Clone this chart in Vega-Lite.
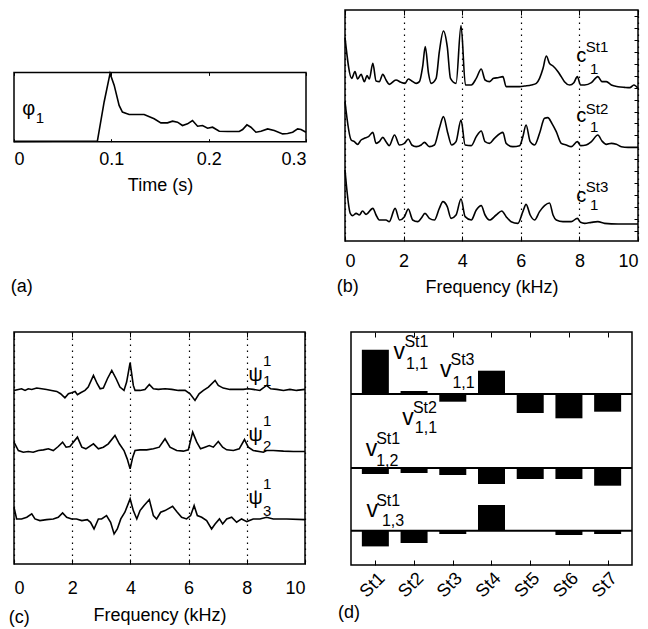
{
  "$schema": "https://vega.github.io/schema/vega-lite/v6.json",
  "background": "white",
  "padding": {"left": 8, "top": 8, "right": 0, "bottom": 0},
  "config": {
    "font": "Liberation Sans",
    "view": {"stroke": "black", "strokeWidth": 1.5},
    "axis": {"domain": false, "grid": false, "tickColor": "black", "tickSize": -5, "tickWidth": 1, "labelFont": "Liberation Sans", "labelFontSize": 18, "labelColor": "black", "labelPadding": 16, "titleFont": "Liberation Sans", "titleFontSize": 18, "titleFontWeight": "normal", "titleColor": "black", "titlePadding": 8},
    "title": {"font": "Liberation Sans", "fontSize": 18, "fontWeight": "normal", "color": "black"},
    "text": {"font": "Liberation Sans", "color": "black"},
    "line": {"color": "black", "strokeWidth": 1.5}
  },
  "datasets": {
    "a": [{"t":0,"v":0.005},{"t":0.0857,"v":0.01},{"t":0.0926,"v":0.573},{"t":0.0987,"v":0.985},{"t":0.1029,"v":0.816},{"t":0.108,"v":0.524},{"t":0.1114,"v":0.427},{"t":0.1183,"v":0.393},{"t":0.1337,"v":0.393},{"t":0.144,"v":0.33},{"t":0.1509,"v":0.272},{"t":0.1577,"v":0.272},{"t":0.1629,"v":0.296},{"t":0.168,"v":0.282},{"t":0.1731,"v":0.233},{"t":0.1783,"v":0.257},{"t":0.1834,"v":0.306},{"t":0.1886,"v":0.223},{"t":0.1937,"v":0.233},{"t":0.1989,"v":0.194},{"t":0.204,"v":0.209},{"t":0.2109,"v":0.15},{"t":0.2194,"v":0.146},{"t":0.2314,"v":0.146},{"t":0.2349,"v":0.175},{"t":0.2393,"v":0.243},{"t":0.2434,"v":0.209},{"t":0.2486,"v":0.136},{"t":0.2537,"v":0.15},{"t":0.2606,"v":0.184},{"t":0.2674,"v":0.16},{"t":0.276,"v":0.112},{"t":0.2811,"v":0.117},{"t":0.2863,"v":0.136},{"t":0.2914,"v":0.184},{"t":0.2949,"v":0.175},{"t":0.3,"v":0.136}],
    "b1": [{"f":0,"a":1.5},{"f":0.23,"a":0.28},{"f":0.34,"a":0.48},{"f":0.43,"a":0.26},{"f":0.55,"a":0.4},{"f":0.66,"a":0.18},{"f":0.75,"a":0.36},{"f":0.83,"a":0.26},{"f":0.95,"a":0.73},{"f":1.06,"a":0.2},{"f":1.17,"a":0.18},{"f":1.29,"a":0.4},{"f":1.4,"a":0.23},{"f":1.51,"a":0.1},{"f":1.74,"a":0.23},{"f":1.91,"a":0.16},{"f":2.05,"a":0.13},{"f":2.16,"a":0.26},{"f":2.28,"a":0.2},{"f":2.43,"a":0.13},{"f":2.54,"a":0.18},{"f":2.65,"a":0.63},{"f":2.74,"a":1.23},{"f":2.85,"a":0.43},{"f":2.94,"a":0.13},{"f":3.11,"a":0.28},{"f":3.22,"a":1.08},{"f":3.36,"a":1.7},{"f":3.49,"a":1.23},{"f":3.6,"a":0.28},{"f":3.79,"a":0.13},{"f":3.96,"a":1.86},{"f":4.11,"a":0.08},{"f":4.31,"a":0.08},{"f":4.48,"a":0.28},{"f":4.65,"a":0.56},{"f":4.78,"a":0.23},{"f":4.93,"a":0.18},{"f":5.07,"a":0.28},{"f":5.22,"a":0.3},{"f":5.39,"a":0.33},{"f":5.5,"a":0.03},{"f":5.73,"a":0.03},{"f":5.96,"a":0.03},{"f":6.13,"a":0.05},{"f":6.36,"a":0.08},{"f":6.53,"a":0.13},{"f":6.64,"a":0.28},{"f":6.76,"a":0.58},{"f":6.87,"a":0.95},{"f":6.98,"a":0.73},{"f":7.1,"a":0.65},{"f":7.27,"a":0.48},{"f":7.38,"a":0.33},{"f":7.49,"a":0.18},{"f":7.67,"a":0.08},{"f":7.81,"a":0.15},{"f":7.93,"a":0.33},{"f":8.04,"a":0.08},{"f":8.18,"a":0.08},{"f":8.41,"a":0.15},{"f":8.63,"a":0.33},{"f":8.77,"a":0.18},{"f":8.92,"a":0.18},{"f":9.09,"a":0.08},{"f":9.32,"a":0.03},{"f":9.54,"a":0.01},{"f":9.72,"a":0},{"f":9.86,"a":0.08},{"f":10,"a":-0.02}],
    "b2": [{"f":0,"a":1.37},{"f":0.21,"a":0.22},{"f":0.32,"a":0.17},{"f":0.43,"a":0.09},{"f":0.55,"a":0.22},{"f":0.66,"a":0.27},{"f":0.8,"a":0.32},{"f":0.95,"a":0.45},{"f":1.06,"a":0.12},{"f":1.17,"a":0.17},{"f":1.29,"a":0.3},{"f":1.4,"a":0.17},{"f":1.51,"a":0.05},{"f":1.69,"a":0.37},{"f":1.86,"a":0.07},{"f":2.03,"a":0.12},{"f":2.16,"a":0.25},{"f":2.28,"a":0.07},{"f":2.43,"a":0.02},{"f":2.6,"a":0.07},{"f":2.71,"a":0.15},{"f":2.88,"a":0.02},{"f":3.05,"a":0.07},{"f":3.22,"a":0.57},{"f":3.36,"a":0.92},{"f":3.51,"a":0.42},{"f":3.64,"a":0.07},{"f":3.79,"a":0.17},{"f":3.96,"a":0.82},{"f":4.1,"a":0.07},{"f":4.31,"a":0.05},{"f":4.48,"a":0.32},{"f":4.65,"a":0.49},{"f":4.78,"a":0.17},{"f":4.93,"a":0.12},{"f":5.1,"a":0.27},{"f":5.39,"a":0.45},{"f":5.5,"a":0.12},{"f":5.73,"a":0.02},{"f":5.96,"a":0.05},{"f":6.07,"a":0.32},{"f":6.18,"a":0.67},{"f":6.32,"a":0.17},{"f":6.47,"a":0.07},{"f":6.64,"a":0.42},{"f":6.81,"a":0.87},{"f":6.92,"a":0.89},{"f":7.06,"a":0.72},{"f":7.21,"a":0.47},{"f":7.38,"a":0.12},{"f":7.55,"a":0.07},{"f":7.72,"a":0.02},{"f":7.93,"a":0.17},{"f":8.04,"a":0.05},{"f":8.23,"a":0.07},{"f":8.41,"a":0.17},{"f":8.63,"a":0.37},{"f":8.77,"a":0.19},{"f":8.92,"a":0.09},{"f":9.09,"a":0.12},{"f":9.26,"a":0.09},{"f":9.43,"a":0.02},{"f":9.66,"a":0},{"f":10,"a":0}],
    "b3": [{"f":0,"a":1.62},{"f":0.18,"a":0.32},{"f":0.26,"a":0.25},{"f":0.38,"a":0.32},{"f":0.49,"a":0.27},{"f":0.6,"a":0.39},{"f":0.72,"a":0.29},{"f":0.95,"a":0.47},{"f":1.06,"a":0.27},{"f":1.17,"a":0.12},{"f":1.4,"a":0.12},{"f":1.51,"a":0.07},{"f":1.71,"a":0.47},{"f":1.86,"a":0.12},{"f":2.03,"a":0.22},{"f":2.16,"a":0.45},{"f":2.31,"a":0.12},{"f":2.48,"a":0.07},{"f":2.6,"a":0.17},{"f":2.73,"a":0.32},{"f":2.88,"a":0.17},{"f":3.05,"a":0.12},{"f":3.22,"a":0.47},{"f":3.34,"a":0.67},{"f":3.49,"a":0.52},{"f":3.62,"a":0.17},{"f":3.79,"a":0.27},{"f":3.96,"a":0.75},{"f":4.1,"a":0.22},{"f":4.31,"a":0.12},{"f":4.48,"a":0.42},{"f":4.65,"a":0.55},{"f":4.78,"a":0.27},{"f":4.93,"a":0.12},{"f":5.16,"a":0.27},{"f":5.35,"a":0.39},{"f":5.5,"a":0.22},{"f":5.67,"a":0.07},{"f":5.9,"a":0.02},{"f":6.07,"a":0.37},{"f":6.18,"a":0.59},{"f":6.32,"a":0.27},{"f":6.47,"a":0.12},{"f":6.64,"a":0.37},{"f":6.81,"a":0.55},{"f":6.98,"a":0.63},{"f":7.1,"a":0.27},{"f":7.21,"a":0.12},{"f":7.44,"a":0.07},{"f":7.72,"a":0.07},{"f":7.93,"a":0.17},{"f":8.04,"a":0.05},{"f":8.18,"a":0.02},{"f":8.41,"a":0.05},{"f":8.63,"a":0.07},{"f":8.86,"a":0.02},{"f":9.32,"a":0},{"f":10,"a":0}],
    "c1": [{"f":0,"a":-0.03},{"f":0.15,"a":0},{"f":0.26,"a":0.02},{"f":0.38,"a":-0.03},{"f":0.49,"a":0.02},{"f":0.61,"a":0},{"f":0.78,"a":0.04},{"f":0.95,"a":0.02},{"f":1.12,"a":0},{"f":1.29,"a":-0.03},{"f":1.47,"a":-0.06},{"f":1.6,"a":-0.13},{"f":1.75,"a":-0.25},{"f":1.87,"a":-0.13},{"f":1.98,"a":-0.1},{"f":2.1,"a":-0.06},{"f":2.18,"a":-0.16},{"f":2.29,"a":-0.1},{"f":2.44,"a":-0.03},{"f":2.55,"a":0.07},{"f":2.73,"a":0.42},{"f":2.86,"a":0.17},{"f":2.96,"a":0.02},{"f":3.07,"a":0.04},{"f":3.21,"a":0.32},{"f":3.36,"a":0.57},{"f":3.51,"a":0.32},{"f":3.64,"a":0.07},{"f":3.78,"a":-0.03},{"f":3.87,"a":0.22},{"f":3.99,"a":0.8},{"f":4.1,"a":0.12},{"f":4.16,"a":-0.03},{"f":4.33,"a":-0.03},{"f":4.5,"a":0},{"f":4.65,"a":0.15},{"f":4.79,"a":0.02},{"f":4.96,"a":0},{"f":5.19,"a":0.02},{"f":5.42,"a":0},{"f":5.65,"a":-0.03},{"f":5.88,"a":-0.03},{"f":6.05,"a":-0.13},{"f":6.22,"a":-0.33},{"f":6.36,"a":-0.13},{"f":6.51,"a":-0.03},{"f":6.68,"a":0.07},{"f":6.91,"a":0.27},{"f":7.02,"a":0.12},{"f":7.19,"a":0.04},{"f":7.42,"a":0},{"f":7.65,"a":0},{"f":7.88,"a":0},{"f":8.05,"a":0.02},{"f":8.22,"a":0},{"f":8.45,"a":-0.03},{"f":8.68,"a":0.12},{"f":8.82,"a":0.02},{"f":9.03,"a":0},{"f":9.26,"a":-0.03},{"f":9.48,"a":0},{"f":9.71,"a":-0.03},{"f":10,"a":0}],
    "c2": [{"f":0,"a":0.27},{"f":0.15,"a":0.02},{"f":0.32,"a":-0.03},{"f":0.49,"a":-0.01},{"f":0.66,"a":-0.03},{"f":0.84,"a":0.02},{"f":1.01,"a":0.04},{"f":1.18,"a":0.07},{"f":1.35,"a":0.02},{"f":1.52,"a":0.14},{"f":1.67,"a":0.27},{"f":1.79,"a":0.12},{"f":1.92,"a":0.14},{"f":2.18,"a":0.42},{"f":2.33,"a":0.12},{"f":2.47,"a":0.07},{"f":2.73,"a":0.22},{"f":2.9,"a":0.07},{"f":3.07,"a":0.12},{"f":3.24,"a":0.22},{"f":3.47,"a":0.47},{"f":3.62,"a":0.22},{"f":3.78,"a":0.02},{"f":3.89,"a":-0.23},{"f":3.99,"a":-0.53},{"f":4.08,"a":-0.18},{"f":4.16,"a":0.02},{"f":4.33,"a":0.04},{"f":4.56,"a":0.04},{"f":4.79,"a":0.07},{"f":4.99,"a":0.12},{"f":5.19,"a":0.37},{"f":5.36,"a":0.12},{"f":5.59,"a":0.02},{"f":5.82,"a":0},{"f":5.99,"a":0.04},{"f":6.14,"a":0.57},{"f":6.28,"a":0.27},{"f":6.41,"a":0.07},{"f":6.56,"a":0.12},{"f":6.71,"a":0.17},{"f":6.85,"a":0.12},{"f":7.02,"a":0.29},{"f":7.17,"a":0.12},{"f":7.31,"a":0.04},{"f":7.54,"a":0.02},{"f":7.74,"a":0.07},{"f":7.92,"a":0.35},{"f":8.05,"a":0.12},{"f":8.22,"a":0.02},{"f":8.57,"a":-0.03},{"f":8.68,"a":0.02},{"f":8.91,"a":0.02},{"f":9.26,"a":0},{"f":9.6,"a":-0.01},{"f":10,"a":-0.01}],
    "c3": [{"f":0,"a":0.35},{"f":0.09,"a":0},{"f":0.26,"a":0},{"f":0.44,"a":0.05},{"f":0.61,"a":0.15},{"f":0.72,"a":0},{"f":0.89,"a":-0.05},{"f":1.12,"a":-0.02},{"f":1.35,"a":0},{"f":1.52,"a":0.05},{"f":1.67,"a":0.18},{"f":1.81,"a":0.05},{"f":1.98,"a":0},{"f":2.15,"a":0},{"f":2.33,"a":-0.05},{"f":2.52,"a":-0.02},{"f":2.63,"a":-0.1},{"f":2.75,"a":-0.3},{"f":2.9,"a":0},{"f":3.01,"a":0},{"f":3.18,"a":0.1},{"f":3.32,"a":-0.1},{"f":3.44,"a":-0.45},{"f":3.55,"a":-0.3},{"f":3.67,"a":0},{"f":3.81,"a":0.2},{"f":3.99,"a":0.6},{"f":4.1,"a":0.25},{"f":4.22,"a":0},{"f":4.33,"a":0.25},{"f":4.47,"a":0.4},{"f":4.65,"a":0.58},{"f":4.79,"a":0.1},{"f":4.9,"a":0},{"f":5.04,"a":0.2},{"f":5.19,"a":0.25},{"f":5.45,"a":0.38},{"f":5.59,"a":0.22},{"f":5.76,"a":0.05},{"f":5.93,"a":0},{"f":6.07,"a":0.1},{"f":6.19,"a":0.4},{"f":6.3,"a":0.1},{"f":6.45,"a":0.05},{"f":6.62,"a":-0.05},{"f":6.79,"a":-0.3},{"f":6.91,"a":-0.15},{"f":7.06,"a":0},{"f":7.17,"a":-0.15},{"f":7.31,"a":0},{"f":7.48,"a":0.05},{"f":7.65,"a":-0.1},{"f":7.82,"a":0},{"f":8,"a":-0.08},{"f":8.22,"a":0},{"f":8.45,"a":0},{"f":8.68,"a":0.05},{"f":8.91,"a":0},{"f":9.37,"a":0},{"f":10,"a":-0.02}],
    "d1": [{"st":1,"v":0.443},{"st":2,"v":0.03},{"st":3,"v":-0.077},{"st":4,"v":0.233},{"st":5,"v":-0.19},{"st":6,"v":-0.243},{"st":7,"v":-0.177}],
    "d2": [{"st":1,"v":-0.06},{"st":2,"v":-0.05},{"st":3,"v":-0.07},{"st":4,"v":-0.16},{"st":5,"v":-0.11},{"st":6,"v":-0.11},{"st":7,"v":-0.177}],
    "d3": [{"st":1,"v":-0.157},{"st":2,"v":-0.123},{"st":3,"v":-0.033},{"st":4,"v":0.257},{"st":5,"v":0},{"st":6,"v":-0.043},{"st":7,"v":-0.033}]
  },
  "spacing": 33,
  "vconcat": [
    {
      "spacing": 26,
      "hconcat": [
        {
          "width": 292, "height": 231,
          "view": {"stroke": null},
          "title": {"text": "(a)", "orient": "bottom", "anchor": "start", "offset": 37},
          "layer": [
            {
              "data": {"values": [{"t0": 0, "t1": 0.3, "v0": 0, "v1": 1}]},
              "mark": {"type": "rect", "filled": false, "stroke": "black", "strokeWidth": 1.5},
              "encoding": {
                "x": {"field": "t0", "type": "quantitative", "scale": {"domain": [0, 0.3], "nice": false, "zero": false}, "axis": {"orient": "top", "offset": -62.4, "values": [0, 0.1, 0.2, 0.3], "labels": false, "title": null, "tickSize": -3}},
                "x2": {"field": "t1"},
                "y": {"field": "v0", "type": "quantitative", "scale": {"domain": [-1.433, 1.9], "nice": false, "zero": false}, "axis": null},
                "y2": {"field": "v1"}
              }
            },
            {
              "data": {"name": "a"},
              "mark": {"type": "line", "color": "black", "strokeWidth": 1.6},
              "encoding": {
                "x": {"field": "t", "type": "quantitative", "axis": {"orient": "bottom", "offset": -99.3, "values": [0, 0.1, 0.2, 0.3], "format": "~f", "title": "Time (s)", "tickSize": -3, "labelPadding": 12}},
                "y": {"field": "v", "type": "quantitative", "axis": null}
              }
            },
            {
              "data": {"values": [{"t": 0.0151, "v": 0.39, "s": "φ"}]},
              "mark": {"type": "text", "fontSize": 20, "align": "center", "baseline": "alphabetic"},
              "encoding": {"x": {"field": "t", "type": "quantitative", "axis": null}, "y": {"field": "v", "type": "quantitative", "axis": null}, "text": {"field": "s"}}
            },
            {
              "data": {"values": [{"t": 0.0223, "v": 0.274, "s": "1"}]},
              "mark": {"type": "text", "fontSize": 15, "align": "left", "baseline": "alphabetic"},
              "encoding": {"x": {"field": "t", "type": "quantitative", "axis": null}, "y": {"field": "v", "type": "quantitative", "axis": null}, "text": {"field": "s"}}
            }
          ]
        },
        {
          "width": 293, "height": 231,
          "title": {"text": "(b)", "orient": "bottom", "anchor": "start", "offset": -18, "dx": -5},
          "resolve": {"scale": {"y": "independent"}},
          "layer": [
            {
              "data": {"name": "b1"},
              "mark": {"type": "line", "color": "black", "strokeWidth": 1.6, "interpolate": "monotone"},
              "encoding": {
                "x": {"field": "f", "type": "quantitative", "scale": {"domain": [0, 10], "nice": false, "zero": false}, "axis": {"orient": "bottom", "values": [0, 2, 4, 6, 8, 10], "title": "Frequency (kHz)", "grid": true, "gridColor": "black", "gridDash": [1.5, 4.5], "gridWidth": 1.2, "gridOpacity": 1}},
                "y": {"field": "a", "type": "quantitative", "scale": {"domain": [-4.6, 2.33], "nice": false, "zero": false}, "axis": {"orient": "right", "values": [2.148, 1.79, 1.432, 1.074, 0.716, 0.358, 0, -0.358, -0.716, -1.074, -1.432, -1.79, -2.148, -2.506, -2.864, -3.222, -3.58, -3.938, -4.296], "labels": false, "title": null, "tickSize": -4}}
              }
            },
            {
              "data": {"values": [{"f": 8.06, "a": 0.78, "s": "c"}]},
              "mark": {"type": "text", "fontSize": 20, "align": "center", "baseline": "alphabetic"},
              "encoding": {"x": {"field": "f", "type": "quantitative", "axis": null}, "y": {"field": "a", "type": "quantitative", "scale": {"domain": [-4.6, 2.33], "nice": false, "zero": false}, "axis": null}, "text": {"field": "s"}}
            },
            {
              "data": {"values": [{"f": 8.22, "a": 1.08, "s": "St1"}, {"f": 8.36, "a": 0.42, "s": "1"}]},
              "mark": {"type": "text", "fontSize": 15, "align": "left", "baseline": "alphabetic"},
              "encoding": {"x": {"field": "f", "type": "quantitative", "axis": null}, "y": {"field": "a", "type": "quantitative", "scale": {"domain": [-4.6, 2.33], "nice": false, "zero": false}, "axis": null}, "text": {"field": "s"}}
            },
            {
              "data": {"name": "b2"},
              "mark": {"type": "line", "color": "black", "strokeWidth": 1.6, "interpolate": "monotone"},
              "encoding": {
                "x": {"field": "f", "type": "quantitative", "axis": {"orient": "top", "values": [0, 2, 4, 6, 8, 10], "labels": false, "title": null}},
                "y": {"field": "a", "type": "quantitative", "scale": {"domain": [-2.81, 4.12], "nice": false, "zero": false}, "axis": null}
              }
            },
            {
              "data": {"values": [{"f": 8.06, "a": 0.77, "s": "c"}]},
              "mark": {"type": "text", "fontSize": 20, "align": "center", "baseline": "alphabetic"},
              "encoding": {"x": {"field": "f", "type": "quantitative", "axis": null}, "y": {"field": "a", "type": "quantitative", "scale": {"domain": [-2.81, 4.12], "nice": false, "zero": false}, "axis": null}, "text": {"field": "s"}}
            },
            {
              "data": {"values": [{"f": 8.22, "a": 1.01, "s": "St2"}, {"f": 8.36, "a": 0.47, "s": "1"}]},
              "mark": {"type": "text", "fontSize": 15, "align": "left", "baseline": "alphabetic"},
              "encoding": {"x": {"field": "f", "type": "quantitative", "axis": null}, "y": {"field": "a", "type": "quantitative", "scale": {"domain": [-2.81, 4.12], "nice": false, "zero": false}, "axis": null}, "text": {"field": "s"}}
            },
            {
              "data": {"name": "b3"},
              "mark": {"type": "line", "color": "black", "strokeWidth": 1.6, "interpolate": "monotone"},
              "encoding": {
                "x": {"field": "f", "type": "quantitative", "axis": null},
                "y": {"field": "a", "type": "quantitative", "scale": {"domain": [-0.51, 6.42], "nice": false, "zero": false}, "axis": null}
              }
            },
            {
              "data": {"values": [{"f": 8.06, "a": 0.67, "s": "c"}]},
              "mark": {"type": "text", "fontSize": 20, "align": "center", "baseline": "alphabetic"},
              "encoding": {"x": {"field": "f", "type": "quantitative", "axis": null}, "y": {"field": "a", "type": "quantitative", "scale": {"domain": [-0.51, 6.42], "nice": false, "zero": false}, "axis": null}, "text": {"field": "s"}}
            },
            {
              "data": {"values": [{"f": 8.22, "a": 0.97, "s": "St3"}, {"f": 8.36, "a": 0.43, "s": "1"}]},
              "mark": {"type": "text", "fontSize": 15, "align": "left", "baseline": "alphabetic"},
              "encoding": {"x": {"field": "f", "type": "quantitative", "axis": null}, "y": {"field": "a", "type": "quantitative", "scale": {"domain": [-0.51, 6.42], "nice": false, "zero": false}, "axis": null}, "text": {"field": "s"}}
            }
          ]
        }
      ]
    },
    {
      "spacing": 28,
      "hconcat": [
        {
          "width": 291, "height": 232,
          "title": {"text": "(c)", "orient": "bottom", "anchor": "start", "offset": -15, "dx": -2},
          "resolve": {"scale": {"y": "independent"}},
          "layer": [
            {
              "data": {"name": "c1"},
              "mark": {"type": "line", "color": "black", "strokeWidth": 1.6},
              "encoding": {
                "x": {"field": "f", "type": "quantitative", "scale": {"domain": [0, 10], "nice": false, "zero": false}, "axis": {"orient": "bottom", "values": [0, 2, 4, 6, 8, 10], "title": "Frequency (kHz)", "labelPadding": 20, "titlePadding": 9, "grid": true, "gridColor": "black", "gridDash": [1.5, 4.5], "gridWidth": 1.2, "gridOpacity": 1}},
                "y": {"field": "a", "type": "quantitative", "scale": {"domain": [-5.23, 1.72], "nice": false, "zero": false}, "axis": null}
              }
            },
            {
              "data": {"values": [{"f": 8.3, "a": 0.26, "s": "ψ"}]},
              "mark": {"type": "text", "fontSize": 20, "align": "center", "baseline": "alphabetic"},
              "encoding": {"x": {"field": "f", "type": "quantitative", "axis": null}, "y": {"field": "a", "type": "quantitative", "scale": {"domain": [-5.23, 1.72], "nice": false, "zero": false}, "axis": null}, "text": {"field": "s"}}
            },
            {
              "data": {"values": [{"f": 8.56, "a": 0.71, "s": "1"}, {"f": 8.56, "a": 0.11, "s": "1"}]},
              "mark": {"type": "text", "fontSize": 15, "align": "left", "baseline": "alphabetic"},
              "encoding": {"x": {"field": "f", "type": "quantitative", "axis": null}, "y": {"field": "a", "type": "quantitative", "scale": {"domain": [-5.23, 1.72], "nice": false, "zero": false}, "axis": null}, "text": {"field": "s"}}
            },
            {
              "data": {"name": "c2"},
              "mark": {"type": "line", "color": "black", "strokeWidth": 1.6},
              "encoding": {
                "x": {"field": "f", "type": "quantitative", "axis": {"orient": "top", "values": [0, 2, 4, 6, 8, 10], "labels": false, "title": null}},
                "y": {"field": "a", "type": "quantitative", "scale": {"domain": [-3.38, 3.57], "nice": false, "zero": false}, "axis": null}
              }
            },
            {
              "data": {"values": [{"f": 8.3, "a": 0.31, "s": "ψ"}]},
              "mark": {"type": "text", "fontSize": 20, "align": "center", "baseline": "alphabetic"},
              "encoding": {"x": {"field": "f", "type": "quantitative", "axis": null}, "y": {"field": "a", "type": "quantitative", "scale": {"domain": [-3.38, 3.57], "nice": false, "zero": false}, "axis": null}, "text": {"field": "s"}}
            },
            {
              "data": {"values": [{"f": 8.56, "a": 0.76, "s": "1"}, {"f": 8.56, "a": 0.01, "s": "2"}]},
              "mark": {"type": "text", "fontSize": 15, "align": "left", "baseline": "alphabetic"},
              "encoding": {"x": {"field": "f", "type": "quantitative", "axis": null}, "y": {"field": "a", "type": "quantitative", "scale": {"domain": [-3.38, 3.57], "nice": false, "zero": false}, "axis": null}, "text": {"field": "s"}}
            },
            {
              "data": {"name": "c3"},
              "mark": {"type": "line", "color": "black", "strokeWidth": 1.6},
              "encoding": {
                "x": {"field": "f", "type": "quantitative", "axis": null},
                "y": {"field": "a", "type": "quantitative", "scale": {"domain": [-1.35, 5.6], "nice": false, "zero": false}, "axis": null}
              }
            },
            {
              "data": {"values": [{"f": 8.3, "a": 0.45, "s": "ψ"}]},
              "mark": {"type": "text", "fontSize": 20, "align": "center", "baseline": "alphabetic"},
              "encoding": {"x": {"field": "f", "type": "quantitative", "axis": null}, "y": {"field": "a", "type": "quantitative", "scale": {"domain": [-1.35, 5.6], "nice": false, "zero": false}, "axis": null}, "text": {"field": "s"}}
            },
            {
              "data": {"values": [{"f": 8.56, "a": 0.9, "s": "1"}, {"f": 8.56, "a": 0.09, "s": "3"}]},
              "mark": {"type": "text", "fontSize": 15, "align": "left", "baseline": "alphabetic"},
              "encoding": {"x": {"field": "f", "type": "quantitative", "axis": null}, "y": {"field": "a", "type": "quantitative", "scale": {"domain": [-1.35, 5.6], "nice": false, "zero": false}, "axis": null}, "text": {"field": "s"}}
            }
          ]
        },
        {
          "width": 281, "height": 233,
          "title": {"text": "(d)", "orient": "bottom", "anchor": "start", "offset": 3, "dx": -12},
          "resolve": {"scale": {"y": "independent"}},
          "layer": [
            {
              "data": {"name": "d1"},
              "mark": {"type": "bar", "width": 27, "color": "black"},
              "encoding": {
                "x": {"field": "st", "type": "quantitative", "scale": {"domain": [0.5, 7.5], "nice": false, "zero": false}, "axis": {"orient": "bottom", "values": [1, 2, 3, 4, 5, 6, 7], "labelExpr": "'St' + datum.value", "labelAngle": -45, "title": null, "labelPadding": 9}},
                "y": {"field": "v", "type": "quantitative", "scale": {"domain": [-1.71, 0.62], "nice": false, "zero": false}, "axis": null},
                "y2": {"datum": 0}
              }
            },
            {
              "data": {"values": [{"z": 0}]},
              "mark": {"type": "rule", "color": "black", "strokeWidth": 2},
              "encoding": {"y": {"field": "z", "type": "quantitative", "scale": {"domain": [-1.71, 0.62], "nice": false, "zero": false}, "axis": null}}
            },
            {
              "data": {"values": [{"s": 1.62, "a": 0.355, "t": "v"}, {"s": 2.82, "a": 0.17, "t": "v"}, {"s": 1.845, "a": -0.31, "t": "v"}]},
              "mark": {"type": "text", "fontSize": 23, "align": "center", "baseline": "alphabetic"},
              "encoding": {"x": {"field": "s", "type": "quantitative", "axis": null}, "y": {"field": "a", "type": "quantitative", "scale": {"domain": [-1.71, 0.62], "nice": false, "zero": false}, "axis": null}, "text": {"field": "t"}}
            },
            {
              "data": {"values": [{"s": 1.75, "a": 0.47, "t": "St1"}, {"s": 1.79, "a": 0.25, "t": "1,1"}, {"s": 2.94, "a": 0.29, "t": "St3"}, {"s": 2.99, "a": 0.06, "t": "1,1"}, {"s": 1.97, "a": -0.19, "t": "St2"}, {"s": 2.02, "a": -0.39, "t": "1,1"}]},
              "mark": {"type": "text", "fontSize": 16, "align": "left", "baseline": "alphabetic"},
              "encoding": {"x": {"field": "s", "type": "quantitative", "axis": null}, "y": {"field": "a", "type": "quantitative", "scale": {"domain": [-1.71, 0.62], "nice": false, "zero": false}, "axis": null}, "text": {"field": "t"}}
            },
            {
              "data": {"name": "d2"},
              "mark": {"type": "bar", "width": 27, "color": "black"},
              "encoding": {
                "x": {"field": "st", "type": "quantitative", "axis": {"orient": "top", "values": [1, 2, 3, 4, 5, 6, 7], "labels": false, "title": null}},
                "y": {"field": "v", "type": "quantitative", "scale": {"domain": [-0.97, 1.36], "nice": false, "zero": false}, "axis": null},
                "y2": {"datum": 0}
              }
            },
            {
              "data": {"values": [{"z": 0}]},
              "mark": {"type": "rule", "color": "black", "strokeWidth": 2},
              "encoding": {"y": {"field": "z", "type": "quantitative", "scale": {"domain": [-0.97, 1.36], "nice": false, "zero": false}, "axis": null}}
            },
            {
              "data": {"values": [{"s": 0.9, "a": 0.12, "t": "v"}]},
              "mark": {"type": "text", "fontSize": 23, "align": "center", "baseline": "alphabetic"},
              "encoding": {"x": {"field": "s", "type": "quantitative", "axis": null}, "y": {"field": "a", "type": "quantitative", "scale": {"domain": [-0.97, 1.36], "nice": false, "zero": false}, "axis": null}, "text": {"field": "t"}}
            },
            {
              "data": {"values": [{"s": 1.02, "a": 0.24, "t": "St1"}, {"s": 1.02, "a": 0.02, "t": "1,2"}]},
              "mark": {"type": "text", "fontSize": 16, "align": "left", "baseline": "alphabetic"},
              "encoding": {"x": {"field": "s", "type": "quantitative", "axis": null}, "y": {"field": "a", "type": "quantitative", "scale": {"domain": [-0.97, 1.36], "nice": false, "zero": false}, "axis": null}, "text": {"field": "t"}}
            },
            {
              "data": {"name": "d3"},
              "mark": {"type": "bar", "width": 27, "color": "black"},
              "encoding": {
                "x": {"field": "st", "type": "quantitative", "axis": null},
                "y": {"field": "v", "type": "quantitative", "scale": {"domain": [-0.343, 1.987], "nice": false, "zero": false}, "axis": null},
                "y2": {"datum": 0}
              }
            },
            {
              "data": {"values": [{"z": 0}]},
              "mark": {"type": "rule", "color": "black", "strokeWidth": 2},
              "encoding": {"y": {"field": "z", "type": "quantitative", "scale": {"domain": [-0.343, 1.987], "nice": false, "zero": false}, "axis": null}}
            },
            {
              "data": {"values": [{"s": 0.92, "a": 0.137, "t": "v"}]},
              "mark": {"type": "text", "fontSize": 23, "align": "center", "baseline": "alphabetic"},
              "encoding": {"x": {"field": "s", "type": "quantitative", "axis": null}, "y": {"field": "a", "type": "quantitative", "scale": {"domain": [-0.343, 1.987], "nice": false, "zero": false}, "axis": null}, "text": {"field": "t"}}
            },
            {
              "data": {"values": [{"s": 1.02, "a": 0.247, "t": "St1"}, {"s": 1.17, "a": 0.047, "t": "1,3"}]},
              "mark": {"type": "text", "fontSize": 16, "align": "left", "baseline": "alphabetic"},
              "encoding": {"x": {"field": "s", "type": "quantitative", "axis": null}, "y": {"field": "a", "type": "quantitative", "scale": {"domain": [-0.343, 1.987], "nice": false, "zero": false}, "axis": null}, "text": {"field": "t"}}
            }
          ]
        }
      ]
    }
  ]
}
